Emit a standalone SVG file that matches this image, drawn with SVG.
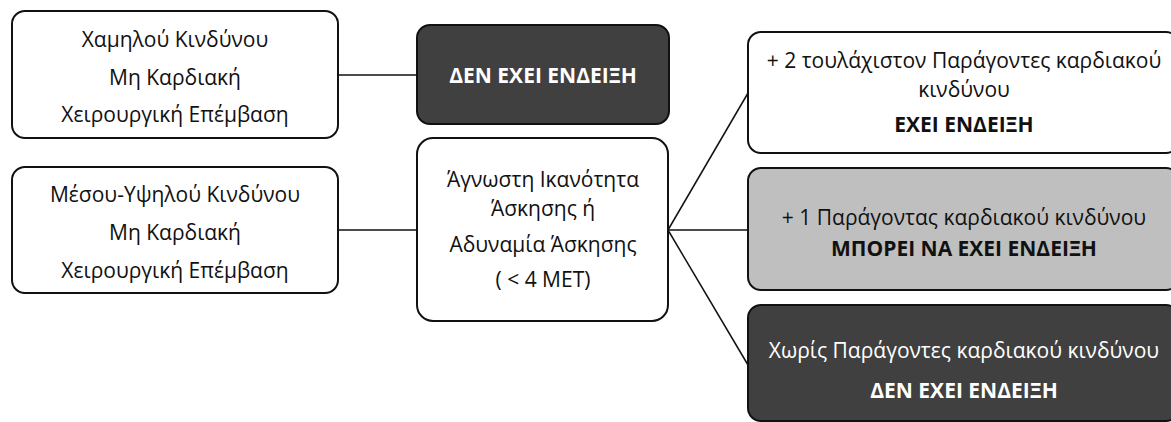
<svg xmlns="http://www.w3.org/2000/svg" width="1171" height="422" viewBox="0 0 1171 422">
<style>
.box{stroke:#111;stroke-width:2}
.w{fill:#fff}
.d{fill:#404040}
.g{fill:#bfbfbf}
text{font-family:"Open Sans","Noto Sans","DejaVu Sans",sans-serif;font-size:21px;text-anchor:middle;fill:#111}
.b{font-weight:bold}
.lt{fill:#fff}
.con{stroke:#111;stroke-width:1.5;fill:none}
</style>
<rect width="1171" height="422" fill="#fff"/>
<g id="connectors">
<line class="con" x1="338" y1="75" x2="417" y2="75"/>
<line class="con" x1="338" y1="230" x2="417" y2="230"/>
<line class="con" x1="668" y1="230" x2="748" y2="93"/>
<line class="con" x1="668" y1="230" x2="748" y2="230"/>
<line class="con" x1="668" y1="230" x2="748" y2="365"/>
</g>
<g id="low-risk">
<rect class="box w" x="12" y="11" width="326" height="127" rx="13"/>
<text x="175" y="47">Χαμηλού Κινδύνου</text>
<text x="175" y="85">Μη Καρδιακή</text>
<text x="175" y="122">Χειρουργική Επέμβαση</text>
</g>
<g id="no-indication-top">
<rect class="box d" x="417" y="25" width="252" height="99" rx="13"/>
<text class="b lt" x="543" y="83">ΔΕΝ ΕΧΕΙ ΕΝΔΕΙΞΗ</text>
</g>
<g id="mid-high-risk">
<rect class="box w" x="12" y="167" width="326" height="126" rx="13"/>
<text x="175" y="202">Μέσου-Υψηλού Κινδύνου</text>
<text x="175" y="240">Μη Καρδιακή</text>
<text x="175" y="278">Χειρουργική Επέμβαση</text>
</g>
<g id="unknown-capacity">
<rect class="box w" x="417" y="138" width="251" height="183" rx="16"/>
<text x="543" y="187">Άγνωστη Ικανότητα</text>
<text x="543" y="216">Άσκησης ή</text>
<text x="543" y="252">Αδυναμία Άσκησης</text>
<text x="543" y="287">( &lt; 4 MET)</text>
</g>
<g id="two-factors">
<rect class="box w" x="748" y="32" width="431" height="121" rx="13"/>
<text x="964" y="68">+ 2 τουλάχιστον Παράγοντες καρδιακού</text>
<text x="964" y="97">κινδύνου</text>
<text class="b" x="964" y="132">ΕΧΕΙ ΕΝΔΕΙΞΗ</text>
</g>
<g id="one-factor">
<rect class="box g" x="748" y="168" width="431" height="122" rx="13"/>
<text x="964" y="225">+ 1 Παράγοντας καρδιακού κινδύνου</text>
<text class="b" x="964" y="256">ΜΠΟΡΕΙ ΝΑ ΕΧΕΙ ΕΝΔΕΙΞΗ</text>
</g>
<g id="no-factors">
<rect class="box d" x="748" y="305" width="431" height="116" rx="13"/>
<text class="lt" x="964" y="358">Χωρίς Παράγοντες καρδιακού κινδύνου</text>
<text class="b lt" x="964" y="398">ΔΕΝ ΕΧΕΙ ΕΝΔΕΙΞΗ</text>
</g>
</svg>
